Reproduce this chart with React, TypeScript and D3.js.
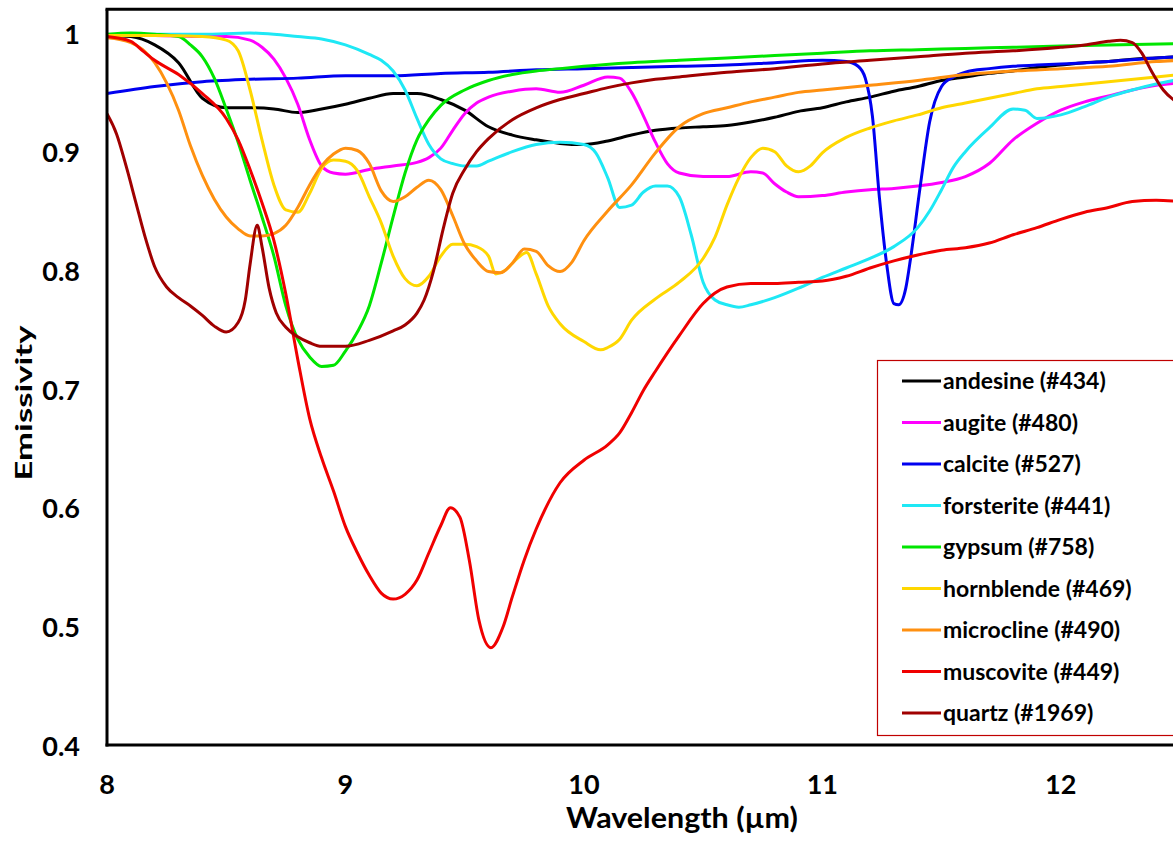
import * as d3 from "d3";

// spectra: [wavelength (µm), emissivity]
const andesine: [number, number][] = [
  [8.0, 0.998], [8.1, 0.997], [8.2, 0.99], [8.3, 0.975], [8.4, 0.945], [8.5, 0.937], [8.6, 0.937],
  [8.7, 0.936], [8.8, 0.933], [8.9, 0.936], [9.0, 0.94], [9.1, 0.945], [9.2, 0.949], [9.3, 0.949],
  [9.4, 0.944], [9.5, 0.935], [9.6, 0.921], [9.7, 0.914], [9.8, 0.91], [9.9, 0.907], [10.0, 0.906],
  [10.1, 0.909], [10.2, 0.914], [10.3, 0.918], [10.4, 0.92], [10.5, 0.921], [10.6, 0.922], [10.7, 0.925],
  [10.8, 0.929], [10.9, 0.934], [11.0, 0.937], [11.1, 0.942], [11.2, 0.946], [11.3, 0.951], [11.4, 0.955],
  [11.5, 0.96], [11.6, 0.963], [11.7, 0.966], [11.8, 0.968], [11.9, 0.971], [12.0, 0.973], [12.1, 0.975],
  [12.2, 0.976], [12.3, 0.978], [12.4, 0.979], [12.5, 0.98],
];

const augite: [number, number][] = [
  [8.0, 0.998], [8.2, 0.998], [8.4, 0.997], [8.5, 0.997], [8.6, 0.994], [8.65, 0.988], [8.7, 0.978],
  [8.75, 0.962], [8.8, 0.94], [8.85, 0.91], [8.9, 0.888], [8.95, 0.882], [9.0, 0.881], [9.1, 0.885],
  [9.2, 0.888], [9.3, 0.891], [9.35, 0.895], [9.4, 0.903], [9.45, 0.918], [9.5, 0.932], [9.55, 0.941],
  [9.6, 0.946], [9.7, 0.951], [9.8, 0.953], [9.9, 0.95], [10.0, 0.956], [10.1, 0.963], [10.15, 0.962],
  [10.2, 0.95], [10.25, 0.93], [10.3, 0.908], [10.35, 0.89], [10.4, 0.882], [10.5, 0.879], [10.6, 0.879],
  [10.7, 0.883], [10.75, 0.882], [10.8, 0.873], [10.85, 0.866], [10.9, 0.862], [11.0, 0.863], [11.1, 0.866],
  [11.2, 0.868], [11.3, 0.869], [11.4, 0.871], [11.5, 0.874], [11.6, 0.879], [11.7, 0.89], [11.8, 0.91],
  [11.9, 0.924], [12.0, 0.935], [12.1, 0.942], [12.2, 0.947], [12.3, 0.952], [12.4, 0.956], [12.5, 0.958],
];

const calcite: [number, number][] = [
  [8.0, 0.949], [8.2, 0.955], [8.4, 0.959], [8.6, 0.961], [8.8, 0.962], [9.0, 0.964], [9.2, 0.964],
  [9.4, 0.966], [9.6, 0.967], [9.8, 0.969], [10.0, 0.97], [10.2, 0.971], [10.4, 0.972], [10.6, 0.973],
  [10.8, 0.975], [11.0, 0.977], [11.1, 0.976], [11.15, 0.972], [11.18, 0.962], [11.21, 0.93], [11.24, 0.86],
  [11.27, 0.805], [11.3, 0.772], [11.32, 0.771], [11.35, 0.785], [11.37, 0.81], [11.41, 0.87], [11.45, 0.925],
  [11.5, 0.955], [11.55, 0.963], [11.6, 0.967], [11.7, 0.97], [11.8, 0.972], [11.9, 0.973], [12.0, 0.974],
  [12.2, 0.976], [12.4, 0.979], [12.5, 0.98],
];

const forsterite: [number, number][] = [
  [8.0, 0.998], [8.2, 0.999], [8.4, 0.999], [8.6, 1.0], [8.7, 0.999], [8.8, 0.997], [8.9, 0.995],
  [9.0, 0.99], [9.1, 0.982], [9.15, 0.977], [9.2, 0.968], [9.25, 0.952], [9.3, 0.928], [9.35, 0.906],
  [9.4, 0.894], [9.45, 0.89], [9.5, 0.888], [9.55, 0.888], [9.6, 0.892], [9.7, 0.9], [9.8, 0.906],
  [9.9, 0.908], [10.0, 0.906], [10.05, 0.899], [10.1, 0.878], [10.15, 0.853], [10.2, 0.855], [10.25, 0.866],
  [10.3, 0.871], [10.35, 0.871], [10.4, 0.862], [10.45, 0.83], [10.5, 0.79], [10.55, 0.775], [10.6, 0.771],
  [10.65, 0.769], [10.7, 0.771], [10.8, 0.777], [10.9, 0.785], [11.0, 0.794], [11.1, 0.802], [11.2, 0.81],
  [11.3, 0.82], [11.4, 0.836], [11.45, 0.85], [11.5, 0.868], [11.55, 0.887], [11.6, 0.9], [11.7, 0.92],
  [11.8, 0.936], [11.85, 0.935], [11.9, 0.928], [12.0, 0.931], [12.1, 0.938], [12.2, 0.946], [12.3, 0.952],
  [12.4, 0.957], [12.5, 0.961],
];

const gypsum: [number, number][] = [
  [8.0, 0.999], [8.1, 1.0], [8.2, 0.999], [8.3, 0.997], [8.35, 0.99], [8.4, 0.98], [8.45, 0.962],
  [8.5, 0.936], [8.55, 0.908], [8.6, 0.876], [8.65, 0.845], [8.7, 0.812], [8.75, 0.77], [8.8, 0.742],
  [8.85, 0.727], [8.9, 0.719], [8.95, 0.72], [9.0, 0.732], [9.05, 0.748], [9.1, 0.77], [9.15, 0.806],
  [9.2, 0.845], [9.25, 0.882], [9.3, 0.91], [9.35, 0.927], [9.4, 0.939], [9.5, 0.952], [9.6, 0.96],
  [9.7, 0.965], [9.8, 0.968], [9.9, 0.97], [10.0, 0.972], [10.2, 0.975], [10.4, 0.977], [10.6, 0.979],
  [10.8, 0.981], [11.0, 0.983], [11.2, 0.985], [11.4, 0.986], [11.6, 0.987], [11.8, 0.988], [12.0, 0.989],
  [12.2, 0.99], [12.5, 0.991],
];

const hornblende: [number, number][] = [
  [8.0, 0.998], [8.2, 0.998], [8.4, 0.997], [8.5, 0.994], [8.55, 0.985], [8.6, 0.952], [8.65, 0.91],
  [8.7, 0.872], [8.75, 0.851], [8.8, 0.849], [8.85, 0.865], [8.9, 0.886], [8.95, 0.893], [9.0, 0.892],
  [9.05, 0.884], [9.1, 0.862], [9.15, 0.84], [9.2, 0.812], [9.25, 0.793], [9.3, 0.787], [9.35, 0.795],
  [9.4, 0.812], [9.45, 0.822], [9.5, 0.822], [9.55, 0.82], [9.6, 0.812], [9.63, 0.797], [9.67, 0.8],
  [9.72, 0.81], [9.76, 0.815], [9.8, 0.797], [9.85, 0.77], [9.9, 0.755], [10.0, 0.74], [10.07, 0.733],
  [10.1, 0.735], [10.15, 0.742], [10.2, 0.758], [10.3, 0.776], [10.4, 0.79], [10.5, 0.81], [10.55, 0.828],
  [10.6, 0.855], [10.65, 0.878], [10.7, 0.895], [10.75, 0.903], [10.8, 0.9], [10.85, 0.888], [10.9, 0.883],
  [10.95, 0.888], [11.0, 0.899], [11.1, 0.912], [11.2, 0.92], [11.3, 0.926], [11.4, 0.931], [11.5, 0.937],
  [11.6, 0.941], [11.7, 0.945], [11.8, 0.949], [11.9, 0.953], [12.0, 0.955], [12.2, 0.959], [12.4, 0.963],
  [12.5, 0.965],
];

const microcline: [number, number][] = [
  [8.0, 0.996], [8.1, 0.992], [8.15, 0.986], [8.2, 0.975], [8.25, 0.958], [8.3, 0.935], [8.35, 0.905],
  [8.4, 0.88], [8.45, 0.86], [8.5, 0.845], [8.55, 0.835], [8.6, 0.829], [8.65, 0.829], [8.7, 0.831],
  [8.75, 0.838], [8.8, 0.853], [8.85, 0.872], [8.9, 0.888], [8.95, 0.898], [9.0, 0.903], [9.05, 0.901],
  [9.1, 0.89], [9.15, 0.867], [9.2, 0.858], [9.25, 0.862], [9.3, 0.87], [9.35, 0.876], [9.4, 0.868],
  [9.45, 0.846], [9.5, 0.822], [9.55, 0.808], [9.6, 0.799], [9.65, 0.798], [9.7, 0.806], [9.75, 0.818],
  [9.8, 0.816], [9.85, 0.804], [9.9, 0.799], [9.95, 0.807], [10.0, 0.825], [10.1, 0.85], [10.2, 0.872],
  [10.3, 0.899], [10.4, 0.921], [10.5, 0.932], [10.6, 0.937], [10.7, 0.942], [10.8, 0.946], [10.9, 0.95],
  [11.0, 0.952], [11.2, 0.956], [11.4, 0.96], [11.6, 0.965], [11.8, 0.968], [12.0, 0.97], [12.2, 0.972],
  [12.4, 0.976], [12.5, 0.977],
];

const muscovite: [number, number][] = [
  [8.0, 0.997], [8.1, 0.993], [8.15, 0.985], [8.2, 0.977], [8.3, 0.965], [8.4, 0.949], [8.5, 0.928],
  [8.55, 0.91], [8.6, 0.885], [8.65, 0.857], [8.7, 0.825], [8.75, 0.78], [8.8, 0.725], [8.85, 0.675],
  [8.9, 0.642], [8.95, 0.614], [9.0, 0.584], [9.05, 0.562], [9.1, 0.543], [9.15, 0.528], [9.2, 0.523],
  [9.25, 0.527], [9.3, 0.539], [9.35, 0.562], [9.4, 0.585], [9.44, 0.6], [9.48, 0.592], [9.52, 0.555],
  [9.56, 0.505], [9.61, 0.482], [9.66, 0.499], [9.7, 0.525], [9.75, 0.556], [9.8, 0.582], [9.9, 0.621],
  [10.0, 0.64], [10.1, 0.653], [10.15, 0.663], [10.2, 0.68], [10.25, 0.699], [10.3, 0.715], [10.4, 0.745],
  [10.5, 0.772], [10.55, 0.781], [10.6, 0.786], [10.7, 0.789], [10.8, 0.789], [10.9, 0.79], [11.0, 0.791],
  [11.1, 0.795], [11.2, 0.802], [11.3, 0.808], [11.4, 0.813], [11.5, 0.817], [11.6, 0.819], [11.7, 0.823],
  [11.8, 0.83], [11.9, 0.836], [12.0, 0.843], [12.1, 0.849], [12.2, 0.853], [12.3, 0.858], [12.4, 0.859],
  [12.5, 0.858],
];

const quartz: [number, number][] = [
  [8.0, 0.932], [8.04, 0.915], [8.08, 0.888], [8.12, 0.858], [8.16, 0.828], [8.2, 0.803], [8.25, 0.786],
  [8.3, 0.777], [8.35, 0.77], [8.4, 0.762], [8.45, 0.753], [8.5, 0.748], [8.55, 0.756], [8.58, 0.775],
  [8.6, 0.805], [8.63, 0.838], [8.65, 0.82], [8.68, 0.785], [8.71, 0.764], [8.75, 0.752], [8.8, 0.744],
  [8.85, 0.739], [8.9, 0.736], [9.0, 0.736], [9.1, 0.741], [9.2, 0.749], [9.25, 0.754], [9.3, 0.764],
  [9.33, 0.775], [9.37, 0.8], [9.41, 0.835], [9.45, 0.865], [9.5, 0.885], [9.55, 0.9], [9.6, 0.911],
  [9.7, 0.927], [9.8, 0.937], [9.9, 0.944], [10.0, 0.949], [10.1, 0.954], [10.2, 0.958], [10.3, 0.961],
  [10.4, 0.963], [10.6, 0.967], [10.8, 0.97], [11.0, 0.974], [11.2, 0.977], [11.4, 0.98], [11.6, 0.983],
  [11.8, 0.985], [12.0, 0.988], [12.1, 0.99], [12.2, 0.993], [12.25, 0.994], [12.3, 0.992], [12.34, 0.983],
  [12.38, 0.968], [12.43, 0.952], [12.5, 0.94],
];

const seriesNames = [
  "andesine (#434)", "augite (#480)", "calcite (#527)", "forsterite (#441)", "gypsum (#758)",
  "hornblende (#469)", "microcline (#490)", "muscovite (#449)", "quartz (#1969)",
];
const seriesColors = [
  "#000000", "#ff00ff", "#0000f0", "#1ee8f5", "#00e600",
  "#ffd700", "#ff9010", "#f00000", "#a00000",
];
const seriesData = [andesine, augite, calcite, forsterite, gypsum, hornblende, microcline, muscovite, quartz];

const xTicks = [8, 9, 10, 11, 12];
const yTicks = [0.4, 0.5, 0.6, 0.7, 0.8, 0.9, 1];

const W = 1173;
const H = 846;
const FONT = "Lato, 'Open Sans', sans-serif";

export default function App() {
  const x = d3.scaleLinear().domain([8, 12.5]).range([107, 1180]);
  const y = d3.scaleLinear().domain([0.4, 1.02]).range([745, 9.3]);

  const line = d3
    .line<[number, number]>()
    .x((d) => x(d[0]))
    .y((d) => y(d[1]))
    .curve(d3.curveMonotoneX);

  const legendTop = 381;
  const legendStep = 41.5;

  return (
    <svg
      width={W}
      height={H}
      style={{ position: "absolute", left: 0, top: 0, display: "block", background: "#fff" }}
    >
      <defs>
        <clipPath id="plot">
          <rect x={x(8)} y={y(1.02)} width={x(12.5) - x(8)} height={y(0.4) - y(1.02)} />
        </clipPath>
      </defs>

      {/* curves */}
      <g clipPath="url(#plot)" fill="none" strokeWidth={3} strokeLinejoin="round">
        {seriesData.map((d, i) => (
          <path key={seriesNames[i]} d={line(d) || ""} stroke={seriesColors[i]} />
        ))}
      </g>

      {/* frame */}
      <g stroke="#000" strokeWidth={3} fill="none">
        <line x1={x(8)} x2={x(8)} y1={y(1.02)} y2={y(0.4) + 1.5} />
        <line x1={x(8) - 1.5} x2={W} y1={y(0.4)} y2={y(0.4)} />
        <line x1={x(8) - 1.5} x2={W} y1={y(1.02)} y2={y(1.02)} />
      </g>

      {/* tick labels */}
      <g fontFamily={FONT} fontWeight={700} fontSize={27} fill="#000">
        {yTicks.map((t) => (
          <text key={t} x={80} y={y(t)} textAnchor="end" dominantBaseline="central">
            {d3.format("~g")(t)}
          </text>
        ))}
        {xTicks.map((t) => (
          <text key={t} x={x(t)} y={794} textAnchor="middle">
            {t}
          </text>
        ))}
      </g>

      {/* axis titles */}
      <text
        x={682}
        y={828}
        textAnchor="middle"
        fontFamily={FONT}
        fontWeight={700}
        fontSize={28}
        textLength={232}
        lengthAdjust="spacingAndGlyphs"
      >
        Wavelength (µm)
      </text>
      <text
        transform="translate(32,403) rotate(-90)"
        textAnchor="middle"
        fontFamily={FONT}
        fontWeight={700}
        fontSize={23}
        textLength={155}
        lengthAdjust="spacingAndGlyphs"
      >
        Emissivity
      </text>

      {/* legend */}
      <rect x={877.5} y={360.5} width={W} height={375} fill="#fff" stroke="#c00000" strokeWidth={1.2} />
      <g fontFamily={FONT} fontWeight={700} fontSize={23}>
        {seriesNames.map((name, i) => {
          const ly = legendTop + i * legendStep;
          return (
            <g key={name}>
              <line x1={902} x2={941} y1={ly} y2={ly} stroke={seriesColors[i]} strokeWidth={3} />
              <text x={943} y={ly + 8}>
                {name}
              </text>
            </g>
          );
        })}
      </g>
    </svg>
  );
}
